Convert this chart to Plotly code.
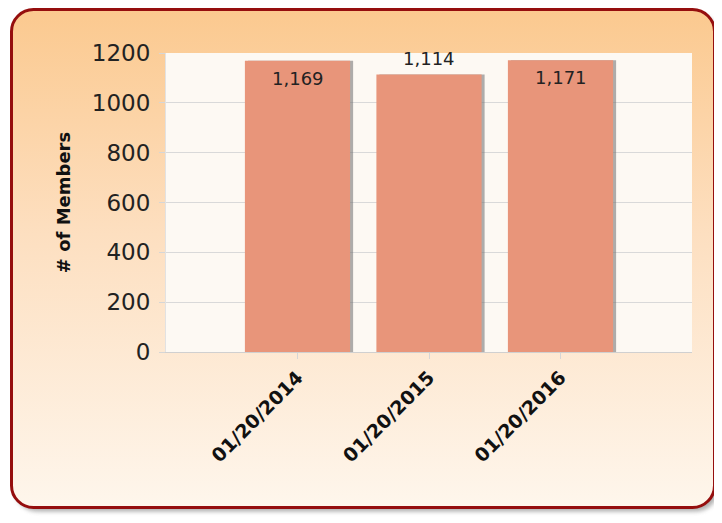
import base64
import plotly.graph_objects as go

# ---- data ----
categories = ["01/20/2014", "01/20/2015", "01/20/2016"]
members = [1169, 1114, 1171]
label_pos = ["inside", "outside", "inside"]
y_ticks = [0, 200, 400, 600, 800, 1000, 1200]

# page body adds an 8px margin; compensate so the drawing lands at the target pixels
OFF = 8
W, H = 722 - OFF, 523 - OFF
ML, MR, MT, MB = 166 - OFF, 30, 53 - OFF, 171
PW, PH = W - ML - MR, H - MT - MB

FONT = "DejaVu Sans, Verdana, sans-serif"
BAR = "#E8957A"

bx, by = 11.5 - OFF, 9.5 - OFF
svg = f"""<svg xmlns="http://www.w3.org/2000/svg" width="{W}" height="{H}" viewBox="0 0 {W} {H}">
<defs>
<linearGradient id="g" x1="0" y1="0" x2="0" y2="1">
<stop offset="0" stop-color="#FBC98F"/>
<stop offset="0.45" stop-color="#FDDFC0"/>
<stop offset="1" stop-color="#FEF6EC"/>
</linearGradient>
<filter id="s" x="-5%" y="-5%" width="110%" height="110%"><feGaussianBlur stdDeviation="2"/></filter>
</defs>
<rect width="{W}" height="{H}" fill="#ffffff"/>
<rect x="{bx + 3.5}" y="{by + 4}" width="703" height="498" rx="22" ry="22" fill="#7a7a7a" opacity="0.6" filter="url(#s)"/>
<rect x="{bx}" y="{by}" width="703" height="498" rx="22" ry="22" fill="url(#g)" stroke="#950E0E" stroke-width="3"/>
</svg>"""
src = "data:image/svg+xml;base64," + base64.b64encode(svg.encode()).decode()

fig = go.Figure()
# bar shadows
fig.add_trace(go.Bar(
    x=categories, y=members, width=0.8, offset=-0.377,
    marker=dict(color="rgba(110,110,110,0.55)", line=dict(width=0)),
    hoverinfo="skip", showlegend=False,
))
fig.add_trace(go.Bar(
    x=categories, y=members, width=0.8, offset=-0.4,
    marker=dict(color=BAR, line=dict(width=0)),
    showlegend=False,
))

for c, v, p in zip(categories, members, label_pos):
    fig.add_annotation(
        x=c, y=v, text=f"{v:,}", showarrow=False,
        yanchor="top" if p == "inside" else "bottom",
        yshift=-5 if p == "inside" else 3,
        font=dict(family=FONT, size=18, color="#222222"),
    )

fig.update_layout(
    width=W, height=H,
    margin=dict(l=ML, r=MR, t=MT, b=MB, autoexpand=False),
    paper_bgcolor="#ffffff",
    plot_bgcolor="#FDF9F3",
    barmode="overlay",
    font=dict(family=FONT, color="#222222"),
    images=[dict(
        source=src, xref="paper", yref="paper",
        x=-ML / PW, y=1 + MT / PH, sizex=W / PW, sizey=H / PH,
        xanchor="left", yanchor="top", sizing="stretch", layer="below",
    )],
    shapes=[dict(
        type="rect", xref="paper", yref="paper", x0=0, x1=1, y0=0, y1=1,
        fillcolor="#FDF9F3", line=dict(width=0), layer="below",
    )],
    xaxis=dict(
        type="category", range=[-1, 3],
        tickangle=-45,
        tickfont=dict(family=FONT, size=19, color="#111111", weight="bold"),
        ticks="outside", ticklen=6, tickcolor="#D6D6D6",
        showline=True, linecolor="#D0D0D0", linewidth=1,
        showgrid=False, automargin=False,
    ),
    yaxis=dict(
        range=[0, 1200], tickvals=y_ticks,
        tickfont=dict(family=FONT, size=23, color="#222222"),
        ticks="outside", ticklen=6, tickcolor="#D6D6D6",
        ticklabelstandoff=4,
        gridcolor="#D9D9D9", gridwidth=1,
        showline=True, linecolor="#E2E2E2", linewidth=1,
        zeroline=False, automargin=False,
        title=dict(text="# of Members", standoff=16,
                   font=dict(family=FONT, size=18, color="#111111", weight="bold")),
    ),
)

fig.write_html("out.html")
